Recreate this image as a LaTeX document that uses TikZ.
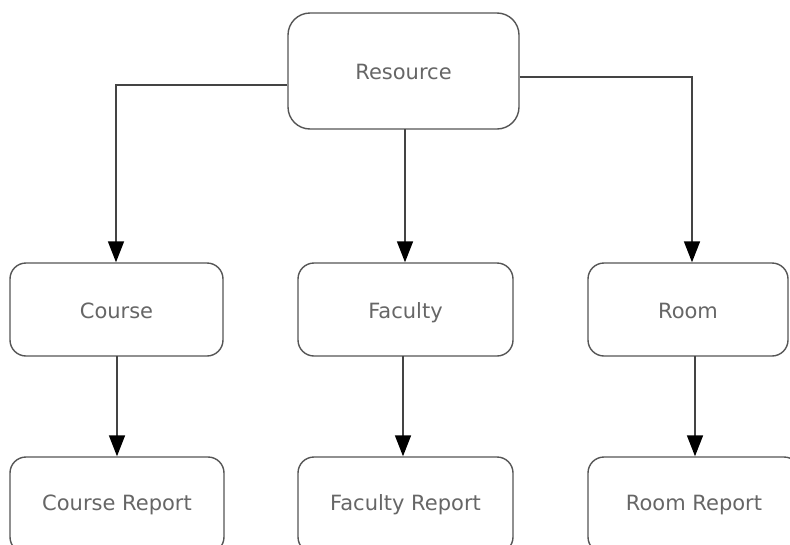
\documentclass[tikz,border=0pt]{standalone}
\usepackage{fontspec}
\setmainfont{DejaVu Sans}
\usetikzlibrary{arrows.meta}
\definecolor{boxline}{HTML}{555555}
\definecolor{linkline}{HTML}{444444}
\definecolor{labeltext}{HTML}{666666}
\begin{document}
\begin{tikzpicture}[x=1pt,y=1pt,
  labelfont/.style={text=labeltext, font=\fontsize{21}{24}\selectfont,
    text height=17pt, text depth=0pt},
  entity/.style={draw=boxline, line width=1.4pt, rounded corners=16pt,
    fill=white, labelfont, inner sep=0pt},
  link/.style={draw=linkline, line width=1.6pt,
    -{Triangle[length=21pt,width=16pt,fill=black,color=black]}}]
  \useasboundingbox (0,0) rectangle (790,-544);
  \clip (0,0) rectangle (790,-544);
  \fill[white] (0,0) rectangle (790,-544);

  % top level
  \node[entity, rounded corners=22pt, minimum width=231pt, minimum height=116pt]
    (res) at (403.5,-71) {Resource};

  % second level
  \node[entity, minimum width=213pt, minimum height=93pt] (course)  at (116.5,-309.5) {Course};
  \node[entity, minimum width=215pt, minimum height=93pt] (faculty) at (405.5,-309.5) {Faculty};
  \node[entity, minimum width=200pt, minimum height=93pt] (room)    at (688,-309.5) {Room};

  % reports (run past the lower edge)
  \node[entity, minimum width=214pt, minimum height=96pt] (courserep)  at (117,-505) {};
  \node[entity, minimum width=215pt, minimum height=96pt] (facultyrep) at (405.5,-505) {};
  \node[entity, minimum width=212pt, minimum height=96pt] (roomrep)    at (694,-505) {};
  \node[labelfont] (courserepl)  at (117,-502) {Course Report};
  \node[labelfont] (facultyrepl) at (405.5,-502) {Faculty Report};
  \node[labelfont] (roomrepl)    at (694,-502) {Room Report};

  % connectors
  \coordinate (lcorner) at (116,-85);
  \coordinate (rcorner) at (692,-77);
  \coordinate (mtop) at (405,-129);
  \draw[link] (res.west |- lcorner) -- (lcorner) -- (lcorner |- course.north);
  \draw[link] (res.east |- rcorner) -- (rcorner) -- (rcorner |- room.north);
  \draw[link] (mtop) -- (mtop |- faculty.north);
  \coordinate (cs) at (117,-356);
  \coordinate (fs) at (403,-356);
  \coordinate (rs) at (695,-356);
  \draw[link] (cs) -- (cs |- courserep.north);
  \draw[link] (fs) -- (fs |- facultyrep.north);
  \draw[link] (rs) -- (rs |- roomrep.north);
\end{tikzpicture}
\end{document}
